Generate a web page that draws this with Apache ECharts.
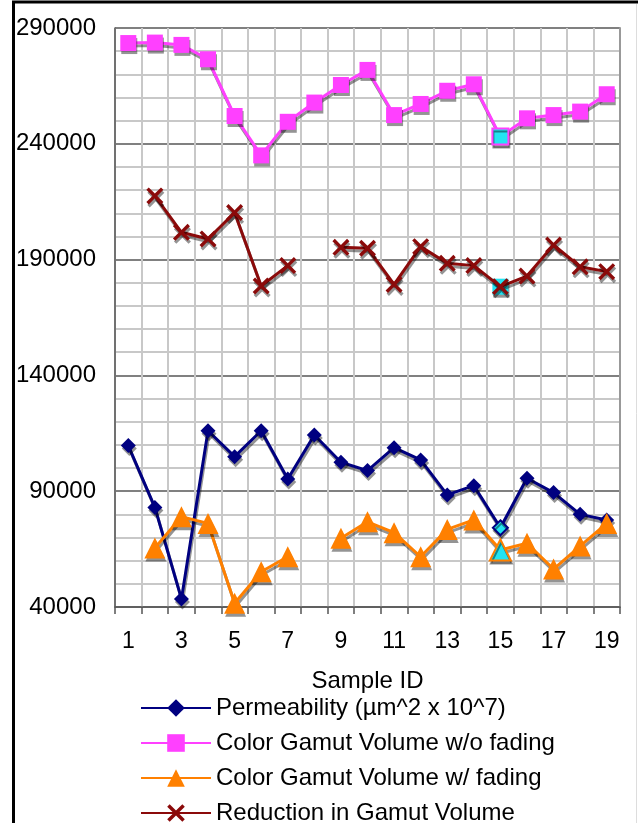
<!DOCTYPE html>
<html>
<head>
<meta charset="utf-8">
<script src="https://cdn.jsdelivr.net/npm/echarts@6/dist/echarts.min.js"></script>
<style>
html,body{margin:0;padding:0;background:#fff;}
#chart{width:638px;height:823px;}
</style>
</head>
<body>
<div id="chart"></div>
<script>
// sample ids on the x axis
var sampleIds = ['1','2','3','4','5','6','7','8','9','10','11','12','13','14','15','16','17','18','19'];
// y axis labelled ticks
var yTicks = [40000, 90000, 140000, 190000, 240000, 290000];

var permeability = [109700, 83000, 43500, 116100, 104900, 116100, 95300, 114300, 102500, 98900, 108800, 103500, 88400, 92400, 74200, 95600, 89400, 80000, 77600];
var gamutNoFade = [283500, 283700, 282700, 276500, 252000, 235000, 249500, 257800, 265400, 271900, 252400, 257200, 262900, 265700, 243100, 251000, 252400, 253900, 261400];
var gamutFade = ['-', 65500, 79000, 76100, 41600, 55200, 61700, '-', 69700, 76800, 72100, 61700, 73500, 77600, 64600, 67500, 56400, 66300, 76100];
var reduction = ['-', 217500, 201800, 198900, 210300, 178600, 187400, '-', 195300, 194900, 179300, 195600, 188400, 187400, 178300, 182900, 196300, 186900, 184800];

var hiIndex = 14; // sample 15 is highlighted
var cyan = '#22e4f2';
var xPath = 'path://M0,1.4L1.4,0L5,3.6L8.6,0L10,1.4L6.4,5L10,8.6L8.6,10L5,6.4L1.4,10L0,8.6L3.6,5Z';
var shadow = {shadowColor: 'rgba(0,0,0,0.42)', shadowOffsetX: 1, shadowOffsetY: 3, shadowBlur: 0};

function hiPoint(arr, col, border){
  return arr.map(function(v, i){
    if (i === hiIndex) return {value: v, itemStyle: {color: col, borderColor: border, borderWidth: 2}};
    return v;
  });
}

function lineSeries(name, data, color, symbol, size, z){
  return {
    name: name,
    type: 'line',
    data: data,
    z: z,
    symbol: symbol,
    symbolSize: size,
    showAllSymbol: true,
    connectNulls: false,
    animation: false,
    lineStyle: Object.assign({color: color, width: 3}, shadow),
    itemStyle: Object.assign({color: color}, shadow)
  };
}

var myChart = echarts.init(document.getElementById('chart'));
var option = {
  backgroundColor: '#fff',
  animation: false,
  textStyle: {fontFamily: 'Liberation Sans, Arial, sans-serif'},
  grid: {left: 115, right: 18, top: 28, bottom: 216},
  graphic: [
    {type: 'line', shape: {x1: 13.5, y1: 2, x2: 13.5, y2: 823}, style: {stroke: '#000', lineWidth: 3}},
    {type: 'line', shape: {x1: 12, y1: 2, x2: 638, y2: 2}, style: {stroke: '#000', lineWidth: 3}},
    {type: 'line', shape: {x1: 636.5, y1: 4, x2: 636.5, y2: 823}, style: {stroke: '#ddd', lineWidth: 1}}
  ],
  legend: {
    orient: 'vertical',
    left: 140,
    top: 696,
    height: 130,
    padding: 0,
    itemWidth: 70,
    itemHeight: 22,
    itemGap: 11,
    data: ['Permeability (µm^2 x 10^7)', 'Color Gamut Volume w/o fading', 'Color Gamut Volume w/ fading', 'Reduction in Gamut Volume'],
    textStyle: {fontSize: 24, color: '#000'}
  },
  xAxis: {
    type: 'category',
    data: sampleIds,
    boundaryGap: true,
    name: 'Sample ID',
    nameLocation: 'middle',
    nameGap: 62,
    nameTextStyle: {fontSize: 24, color: '#000'},
    axisLine: {lineStyle: {color: '#555', width: 1.5}},
    axisTick: {show: true, interval: 0, length: 7, lineStyle: {color: '#555', width: 1.5}},
    axisLabel: {interval: 1, fontSize: 23, color: '#000', margin: 23},
    splitLine: {show: true, interval: 0, lineStyle: {color: '#c8c8c8', width: 2}}
  },
  yAxis: [{
    type: 'value',
    min: 40000,
    max: 290000,
    interval: 10000,
    axisLine: {show: true, lineStyle: {color: '#555', width: 1.5}},
    axisTick: {show: false},
    axisLabel: {fontSize: 24, color: '#000', margin: 19, formatter: function(v){
      return yTicks.indexOf(v) >= 0 ? String(v) : '';
    }},
    splitLine: {show: true, lineStyle: {color: ['#808080', '#c8c8c8', '#c8c8c8', '#c8c8c8', '#c8c8c8'], width: 2}}
  }, {
    type: 'value',
    position: 'right',
    min: 40000,
    max: 290000,
    interval: 10000,
    axisLine: {show: true, lineStyle: {color: '#999', width: 2}},
    axisTick: {show: false},
    axisLabel: {show: false},
    splitLine: {show: false}
  }],
  series: [
    lineSeries('Permeability (µm^2 x 10^7)', hiPoint(permeability, cyan, '#000080'), '#000080', 'diamond', 15, 5),
    lineSeries('Color Gamut Volume w/o fading', hiPoint(gamutNoFade, cyan, '#ff40ff'), '#ff40ff', 'rect', 16, 4),
    lineSeries('Color Gamut Volume w/ fading', hiPoint(gamutFade, cyan, '#ff8000'), '#ff8000', 'triangle', 21, 6),
    {
      name: 'highlight',
      type: 'line',
      data: reduction.map(function(v, i){ return i === hiIndex ? v : '-'; }),
      symbol: 'rect',
      symbolSize: 16,
      z: 2,
      showSymbol: true,
      lineStyle: {width: 0},
      itemStyle: Object.assign({color: cyan}, shadow),
      animation: false,
      legendHoverLink: false
    },
    lineSeries('Reduction in Gamut Volume', reduction, '#8b0a0a', xPath, 17, 3)
  ]
};
myChart.setOption(option);
</script>
</body>
</html>
